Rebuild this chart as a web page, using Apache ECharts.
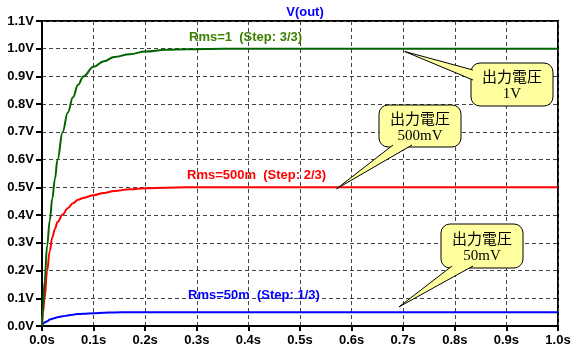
<!DOCTYPE html>
<html>
<head>
<meta charset="utf-8">
<script src="https://cdn.jsdelivr.net/npm/echarts@6/dist/echarts.min.js"></script>
<style>
  html, body { margin: 0; padding: 0; background: #fff; }
  #chart { width: 576px; height: 354px; }
</style>
</head>
<body>
<div id="chart"></div>
<script>
// time (s) and V(out) for each step of the .step sweep
const times = [0, 0.002, 0.005, 0.01, 0.015, 0.02, 0.025, 0.03, 0.04, 0.05, 0.06, 0.07, 0.08, 0.1, 0.12, 0.14, 0.17, 0.2, 0.24, 0.28, 0.35, 0.5, 0.7, 1.0]
const vRms1 = [0, 0.07, 0.16, 0.29, 0.38, 0.46, 0.53, 0.6, 0.7, 0.77, 0.825, 0.87, 0.9, 0.935, 0.955, 0.97, 0.98, 0.99, 0.996, 0.998, 1.0, 1.0, 1.0, 1.0]
const vRms500m = [0, 0.05, 0.1, 0.2, 0.27, 0.32, 0.35, 0.375, 0.402, 0.425, 0.443, 0.455, 0.462, 0.472, 0.48, 0.487, 0.493, 0.497, 0.499, 0.5, 0.5, 0.5, 0.5, 0.5]
const vRms50m = [0, 0.008, 0.013, 0.017, 0.023, 0.026, 0.029, 0.032, 0.035, 0.038, 0.041, 0.043, 0.044, 0.046, 0.048, 0.049, 0.0495, 0.0498, 0.05, 0.05, 0.05, 0.05, 0.05, 0.05]

const stepLabels = [
  { text: "Rms=1  (Step: 3/3)", at: [0.285, 1.04], color: "#3d8000" },
  { text: "Rms=500m  (Step: 2/3)", at: [0.281, 0.544], color: "#ff0000" },
  { text: "Rms=50m  (Step: 1/3)", at: [0.283, 0.111], color: "#0000ff" },
]

// balloon notes: tip points at a data position, box in pixels
const notes = [
  { lines: ["出力電圧", "1V"], tip: [0.703, 0.99], box: [471, 63, 82, 43], base: [[473, 70], [473, 80]] },
  { lines: ["出力電圧", "500mV"], tip: [0.571, 0.495], box: [379, 105, 82, 42], base: [[393, 145], [412, 145]] },
  { lines: ["出力電圧", "50mV"], tip: [0.692, 0.069], box: [441, 224, 82, 44], base: [[452, 266], [473, 266]] },
]

const pairs = (vals) => times.map((t, i) => [t, vals[i]])
const FONT = "'Liberation Sans', Arial, sans-serif"

const chart = echarts.init(document.getElementById("chart"), null, { renderer: "canvas" })

const lineSeries = (name, vals, color) => ({
  name, type: "line", data: pairs(vals), showSymbol: false,
  smooth: 0.4, smoothMonotone: "x",
  lineStyle: { color, width: 2 },
})

chart.setOption({
  animation: false,
  title: {
    text: "V(out)",
    left: 300,
    textAlign: "center",
    top: 1,
    textStyle: { color: "#0000ff", fontFamily: FONT, fontSize: 13, fontWeight: "bold" },
  },
  grid: {
    left: 42, right: 18, top: 21, bottom: 28,
    show: true, borderColor: "#000", borderWidth: 2,
  },
  xAxis: {
    type: "value",
    min: 0, max: 1, interval: 0.1,
    axisLine: { lineStyle: { color: "#000", width: 2 } },
    axisTick: { show: true, length: 5, lineStyle: { color: "#000", width: 2 } },
    axisLabel: {
      color: "#000", fontFamily: FONT, fontSize: 13, fontWeight: "bold", margin: 8,
      formatter: (v) => v.toFixed(1) + "s",
    },
    splitLine: { show: true, lineStyle: { color: "#444", type: [4, 3], width: 1 } },
  },
  yAxis: {
    type: "value",
    min: 0, max: 1.1, interval: 0.1,
    axisLine: { show: true, lineStyle: { color: "#000", width: 2 } },
    axisTick: { show: true, length: 6, lineStyle: { color: "#000", width: 2 } },
    axisLabel: {
      color: "#000", fontFamily: FONT, fontSize: 13, fontWeight: "bold", margin: 8,
      formatter: (v) => v.toFixed(1) + "V",
    },
    splitLine: { show: true, lineStyle: { color: "#444", type: [4, 3], width: 1 } },
  },
  series: [
    lineSeries("Rms=50m", vRms50m, "#0000ff"),
    lineSeries("Rms=500m", vRms500m, "#ff0000"),
    lineSeries("Rms=1", vRms1, "#006400"),
  ],
})

// overlay texts and balloons once the scales exist
const px = (p) => chart.convertToPixel({ gridIndex: 0 }, p)
const graphics = []

stepLabels.forEach((s) => {
  const [x, y] = px(s.at)
  graphics.push({
    type: "text", x, y, z: 10,
    style: { text: s.text, fill: s.color, font: "bold 13px " + FONT, textVerticalAlign: "middle" },
  })
})

notes.forEach((n) => {
  const tip = px(n.tip)
  const [bx, by, bw, bh] = n.box
  graphics.push({
    type: "rect", z: 20,
    shape: { x: bx, y: by, width: bw, height: bh, r: 9 },
    style: { fill: "#ffffa0", stroke: "#000", lineWidth: 1 },
  })
  graphics.push({
    type: "polygon", z: 21,
    shape: { points: [tip, n.base[0], n.base[1]] },
    style: { fill: "#ffffa0" },
  })
  graphics.push({
    type: "polyline", z: 22,
    shape: { points: [n.base[0], tip, n.base[1]] },
    style: { fill: null, stroke: "#000", lineWidth: 1 },
  })
  graphics.push({
    type: "text", z: 23, x: bx + bw / 2, y: by + bh / 2 - 8,
    style: { text: n.lines[0], fill: "#000", font: "15px 'Noto Sans CJK JP', sans-serif", textAlign: "center", textVerticalAlign: "middle" },
  })
  graphics.push({
    type: "text", z: 23, x: bx + bw / 2, y: by + bh / 2 + 10,
    style: { text: n.lines[1], fill: "#000", font: "15px 'Liberation Serif', serif", textAlign: "center", textVerticalAlign: "middle" },
  })
})

chart.setOption({ graphic: graphics })
</script>
</body>
</html>
